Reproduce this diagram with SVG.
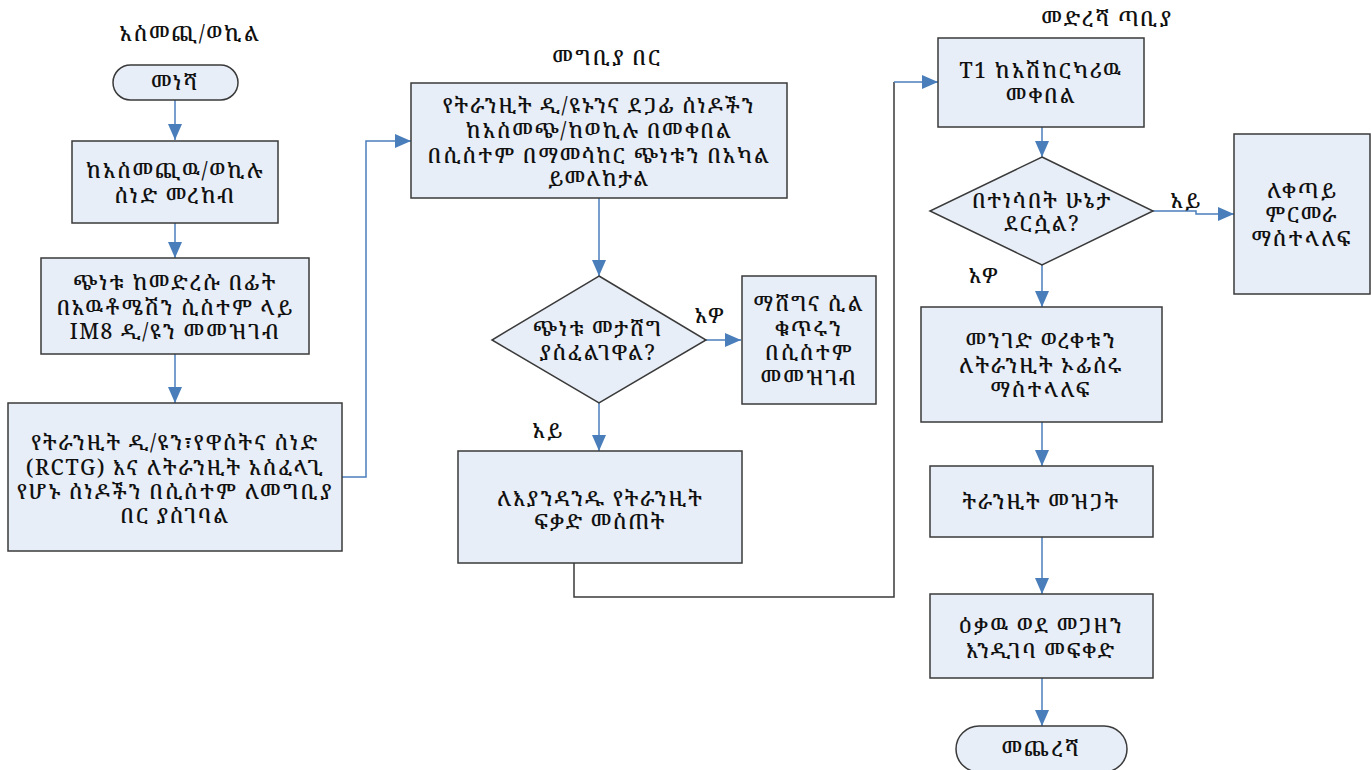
<svg xmlns="http://www.w3.org/2000/svg" width="1371" height="770" viewBox="0 0 1371 770">
  <style>
    text { font-family: "Noto Serif Ethiopic", "Noto Sans Ethiopic", "Abyssinica SIL", "Noto Sans", "DejaVu Sans", sans-serif; font-size: 21px; font-weight: 500; letter-spacing: 1.6px; fill: #111; text-anchor: middle; dominant-baseline: central; }
    .shape { fill: #e8eef7; stroke: #3a3a3a; stroke-width: 1.5; }
    .flow { fill: none; stroke: #4a7ebb; stroke-width: 1.5; }
    .flow-dark { fill: none; stroke: #3a3a3a; stroke-width: 1.5; }
  </style>
  <defs>
    <marker id="arrow" viewBox="0 0 16 14" refX="16" refY="7" markerWidth="16" markerHeight="14" markerUnits="userSpaceOnUse" orient="auto">
      <path d="M0,0 L16,7 L0,14 Z" fill="#4a7ebb"/>
    </marker>
  </defs>

  <!-- lane titles -->
  <g id="lane-titles">
    <text x="190" y="33">አስመጪ/ወኪል</text>
    <text x="607" y="57">መግቢያ በር</text>
    <text x="1107" y="18">መድረሻ ጣቢያ</text>
  </g>

  <!-- connectors -->
  <g id="connectors">
    <path class="flow" d="M175,100 V140" marker-end="url(#arrow)"/>
    <path class="flow" d="M175,223 V258" marker-end="url(#arrow)"/>
    <path class="flow" d="M175,354 V403" marker-end="url(#arrow)"/>
    <path class="flow" d="M342,477 H366 V141 H411" marker-end="url(#arrow)"/>
    <path class="flow" d="M599,198 V276" marker-end="url(#arrow)"/>
    <path class="flow" d="M706,340 H741" marker-end="url(#arrow)"/>
    <path class="flow" d="M599,403 V451" marker-end="url(#arrow)"/>
    <path class="flow-dark" d="M574,563 V597 H894 V82"/>
    <path class="flow" d="M894,82 H938" marker-end="url(#arrow)"/>
    <path class="flow" d="M1042,127 V157" marker-end="url(#arrow)"/>
    <path class="flow" d="M1153,211 H1196 V214 H1234" marker-end="url(#arrow)"/>
    <path class="flow" d="M1042,265 V307" marker-end="url(#arrow)"/>
    <path class="flow" d="M1042,422 V466" marker-end="url(#arrow)"/>
    <path class="flow" d="M1042,537 V594" marker-end="url(#arrow)"/>
    <path class="flow" d="M1042,678 V726" marker-end="url(#arrow)"/>
  </g>

  <!-- connector labels -->
  <g id="labels">
    <text x="710" y="315">አዎ</text>
    <text x="548" y="430">አይ</text>
    <text x="1186" y="200">አይ</text>
    <text x="984" y="275">አዎ</text>
  </g>

  <g id="start">
    <rect class="shape" x="113" y="65" width="125" height="35" rx="17.5"/>
    <text x="175" y="82">መነሻ</text>
  </g>

  <g id="receive-docs">
    <rect class="shape" x="72" y="141" width="206" height="82"/>
    <text x="175" y="170">ከአስመጪዉ/ወኪሉ<tspan x="175" dy="25">ሰነድ መረከብ</tspan></text>
  </g>

  <g id="register-im8">
    <rect class="shape" x="41" y="258" width="268" height="96"/>
    <text x="175" y="282">ጭነቱ ከመድረሱ በፊት<tspan x="175" dy="25">በአዉቶሜሽን ሲስተም ላይ</tspan><tspan x="175" dy="24">IM8 ዲ/ዩን መመዝገብ</tspan></text>
  </g>

  <g id="submit-transit-docs">
    <rect class="shape" x="8" y="403" width="334" height="148"/>
    <text x="175" y="442">የትራንዚት ዲ/ዩን፣የዋስትና ሰነድ<tspan x="175" dy="25">(RCTG) እና ለትራንዚት አስፈላጊ</tspan><tspan x="175" dy="24">የሆኑ ሰነዶችን በሲስተም ለመግቢያ</tspan><tspan x="175" dy="24">በር ያስገባል</tspan></text>
  </g>

  <g id="inspect-cargo">
    <rect class="shape" x="411" y="83" width="376" height="115"/>
    <text x="599" y="105">የትራንዚት ዲ/ዩኑንና ደጋፊ ሰነዶችን<tspan x="599" dy="25">ከአስመጭ/ከወኪሉ በመቀበል</tspan><tspan x="599" dy="25">በሲስተም በማመሳከር ጭነቱን በአካል</tspan><tspan x="599" dy="23">ይመለከታል</tspan></text>
  </g>

  <g id="seal-decision">
    <polygon class="shape" points="599,276 706,340 599,403 492,340"/>
    <text x="598" y="328">ጭነቱ መታሸግ<tspan x="598" dy="24">ያስፈልገዋል?</tspan></text>
  </g>

  <g id="record-seal">
    <rect class="shape" x="742" y="276" width="134" height="128"/>
    <text x="809" y="303">ማሸግና ሲል<tspan x="809" dy="25">ቁጥሩን</tspan><tspan x="809" dy="24">በሲስተም</tspan><tspan x="809" dy="25">መመዝገብ</tspan></text>
  </g>

  <g id="issue-permit">
    <rect class="shape" x="458" y="451" width="284" height="112"/>
    <text x="600" y="498">ለእያንዳንዱ የትራንዚት<tspan x="600" dy="23">ፍቃድ መስጠት</tspan></text>
  </g>

  <g id="receive-t1">
    <rect class="shape" x="938" y="38" width="206" height="89"/>
    <text x="1041" y="70">T1 ከአሽከርካሪዉ<tspan x="1041" dy="25">መቀበል</tspan></text>
  </g>

  <g id="condition-decision">
    <polygon class="shape" points="1042,157 1153,211 1042,265 930,211"/>
    <text x="1042" y="200">በተነሳበት ሁኔታ<tspan x="1042" dy="23">ደርሷል?</tspan></text>
  </g>

  <g id="further-inspection">
    <rect class="shape" x="1234" y="134" width="136" height="160"/>
    <text x="1302" y="190">ለቀጣይ<tspan x="1302" dy="24">ምርመራ</tspan><tspan x="1302" dy="24">ማስተላለፍ</tspan></text>
  </g>

  <g id="forward-waybill">
    <rect class="shape" x="921" y="307" width="241" height="115"/>
    <text x="1041" y="340">መንገድ ወረቀቱን<tspan x="1041" dy="25">ለትራንዚት ኦፊሰሩ</tspan><tspan x="1041" dy="24">ማስተላለፍ</tspan></text>
  </g>

  <g id="close-transit">
    <rect class="shape" x="930" y="466" width="223" height="71"/>
    <text x="1041" y="501">ትራንዚት መዝጋት</text>
  </g>

  <g id="allow-warehouse">
    <rect class="shape" x="930" y="594" width="223" height="84"/>
    <text x="1041" y="625">ዕቃዉ ወደ መጋዘን<tspan x="1041" dy="25">እንዲገባ መፍቀድ</tspan></text>
  </g>

  <g id="end">
    <rect class="shape" x="956" y="726" width="171" height="46" rx="23"/>
    <text x="1041" y="748">መጨረሻ</text>
  </g>
</svg>
